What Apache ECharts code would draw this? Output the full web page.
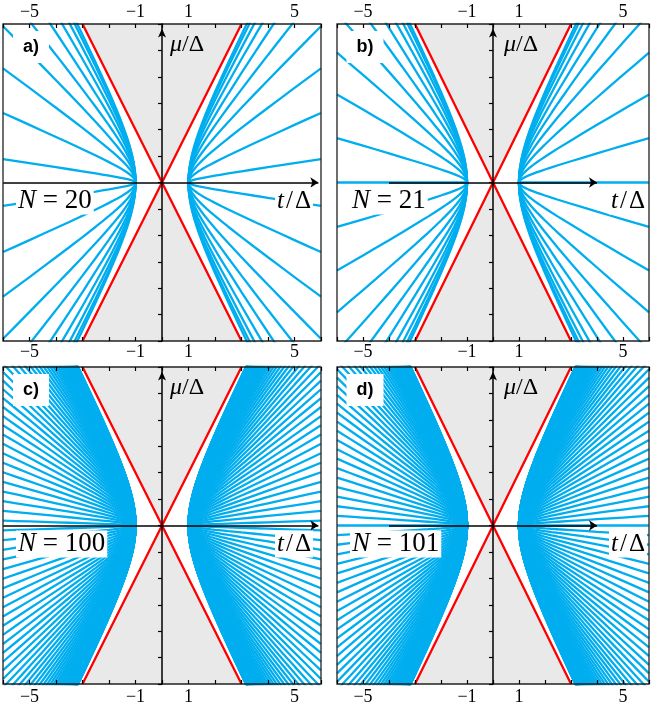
<!DOCTYPE html>
<html><head><meta charset="utf-8">
<script src="https://cdn.jsdelivr.net/npm/echarts@6/dist/echarts.min.js"></script>
<style>html,body{margin:0;padding:0;background:#fff}#c{width:652px;height:711px}</style>
</head><body><div id="c"></div>
<script>
// ---------------- data ----------------
const panelTags = ['a)', 'b)', 'c)', 'd)'];
const chainLengths = [20, 21, 100, 101];
const tickLabelValues = [-5, -1, 1, 5];
// t/Δ sample points (right branch; left branch mirrored) and the curve profile
const tSamples = [1, 1.0005, 1.002, 1.005, 1.01, 1.02, 1.04, 1.07, 1.1, 1.15, 1.2, 1.25, 1.3, 1.35, 1.4, 1.5, 1.6, 1.7, 1.85, 2, 2.25, 2.5, 3, 3.5, 4, 4.5, 5, 5.5, 6];
const curveProfile = [0, 0.03163, 0.06328, 0.10012, 0.14177, 0.20100, 0.28566, 0.38066, 0.45826, 0.56789, 0.66332, 0.75, 0.83066, 0.90692, 0.97980, 1.11803, 1.24900, 1.37477, 1.55644, 1.73205, 2.01556, 2.29129, 2.82843, 3.35410, 3.87298, 4.38748, 4.89898, 5.40833, 5.91608];
// slope factor of each zero-mode line (upper half; lower half is the mirror image)
const slopesN20 = [1.9777, 1.9111, 1.8019, 1.6525, 1.4661, 1.2470, 1.0000, 0.7307, 0.4450, 0.1495];
const slopesN21 = [1.9796, 1.9190, 1.8193, 1.6825, 1.5115, 1.3097, 1.0813, 0.8308, 0.5635, 0.2846, 0];
const slopesN100 = [1.9990, 1.9961, 1.9913, 1.9845, 1.9759, 1.9653, 1.9528, 1.9384, 1.9221, 1.9041, 1.8841, 1.8623, 1.8387, 1.8133, 1.7862, 1.7573, 1.7268, 1.6946, 1.6608, 1.6253, 1.5882, 1.5497, 1.5096, 1.4681, 1.4251, 1.3808, 1.3351, 1.2882, 1.2400, 1.1906, 1.1400, 1.0884, 1.0357, 0.9820, 0.9273, 0.8718, 0.8154, 0.7582, 0.7002, 0.6416, 0.5824, 0.5227, 0.4623, 0.4016, 0.3405, 0.2790, 0.2173, 0.1554, 0.0933, 0.0311];
const slopesN101 = [1.9991, 1.9962, 1.9915, 1.9848, 1.9763, 1.9659, 1.9537, 1.9396, 1.9237, 1.9059, 1.8862, 1.8649, 1.8418, 1.8169, 1.7903, 1.7620, 1.7321, 1.7004, 1.6672, 1.6323, 1.5960, 1.5581, 1.5188, 1.4780, 1.4358, 1.3923, 1.3473, 1.3012, 1.2538, 1.2053, 1.1555, 1.1047, 1.0528, 1.0000, 0.9462, 0.8915, 0.8359, 0.7796, 0.7225, 0.6647, 0.6063, 0.5473, 0.4878, 0.4279, 0.3675, 0.3068, 0.2458, 0.1845, 0.1231, 0.0616, 0];
const panelSlopes = [slopesN20, slopesN21, slopesN100, slopesN101];
// red boundary |μ| = 2|t| (upper V and lower Λ)
const boundaryUpper = [[-3, 6], [0, 0], [3, 6]];
const boundaryLower = [[-3, -6], [0, 0], [3, -6]];
const axisRange = [-6, 6];

// ---------------- layout / style ----------------
const BLUE = '#00aeef', RED = '#ff0000', GRAY = '#e9e9e9';
const SERIF = "'Liberation Serif', 'DejaVu Serif', serif";
const SANS = "'Liberation Sans', Arial, sans-serif";
const grids = [
  { left: 3, top: 24, width: 318, height: 317 },
  { left: 337, top: 24, width: 314, height: 317 },
  { left: 3, top: 367, width: 318, height: 317 },
  { left: 337, top: 367, width: 314, height: 317 }
];
const tAxisSpan = [[-6, 5.9], [-4, 4], [-6, 5.9], [-4, 4]];
const showTopLabels = [true, true, true, true];
const showBottomLabels = [false, false, true, true];

function fmtTick(v) {
  if (tickLabelValues.indexOf(v) < 0) return '';
  return v < 0 ? '\u2212' + Math.abs(v) : String(v);
}

const xAxes = [], yAxes = [], series = [], graphics = [];
grids.forEach((g, p) => {
  ['top', 'bottom'].forEach((pos, j) => {
    xAxes.push({
      gridIndex: p, type: 'value', position: pos, min: axisRange[0], max: axisRange[1], interval: 1, z: 10,
      axisLine: { show: false, onZero: false },
      axisTick: { show: true, inside: true, length: 4, lineStyle: { color: '#000', width: 1.2 } },
      axisLabel: { show: j === 0 ? showTopLabels[p] : showBottomLabels[p], formatter: fmtTick, margin: j === 0 ? (p >= 2 ? 6 : 3) : 4,
        fontFamily: SERIF, fontSize: 18, color: '#000' },
      splitLine: { show: false }
    });
  });
  yAxes.push({
    gridIndex: p, type: 'value', min: axisRange[0], max: axisRange[1], interval: 1, z: 10,
    axisLine: { show: true, onZero: true, symbol: ['none', 'arrow'], symbolSize: [6, 9], symbolOffset: [0, -4.5],
      lineStyle: { color: '#000', width: 1.5 } },
    axisTick: { show: true, inside: false, length: 4, lineStyle: { color: '#000', width: 1.2 } },
    axisLabel: { show: false },
    splitLine: { show: false }
  });

  // gray gap + red boundary lines
  [[boundaryUpper, 'end'], [boundaryLower, 'start']].forEach(([d, origin]) => {
    series.push({
      type: 'line', xAxisIndex: 2 * p, yAxisIndex: p, data: d, symbol: 'none', z: 1, silent: true,
      lineStyle: { color: RED, width: 2.3 },
      areaStyle: { color: GRAY, opacity: 1, origin: origin }
    });
  });

  // blue zero-mode lines
  panelSlopes[p].forEach(s => {
    const signs = s === 0 ? [1] : [1, -1];
    signs.forEach(sg => {
      const pts = [];
      for (let i = tSamples.length - 1; i >= 0; i--) pts.push([-tSamples[i], sg * s * curveProfile[i]]);
      pts.push([0, '-']);
      for (let i = 0; i < tSamples.length; i++) pts.push([tSamples[i], sg * s * curveProfile[i]]);
      series.push({
        type: 'line', xAxisIndex: 2 * p, yAxisIndex: p, data: pts, symbol: 'none', z: 2, silent: true,
        connectNulls: false, clip: true,
        lineStyle: { color: BLUE, width: 2.3 }
      });
    });
  });

  // horizontal t axis with arrow
  series.push({
    type: 'line', xAxisIndex: 2 * p, yAxisIndex: p, data: [], symbol: 'none', z: 6, silent: true,
    markLine: {
      silent: true, symbol: ['none', 'arrow'], symbolSize: 8, animation: false,
      label: { show: false },
      lineStyle: { color: '#000', width: 1.5, type: 'solid' },
      data: [[{ coord: [tAxisSpan[p][0], 0] }, { coord: [tAxisSpan[p][1], 0] }]]
    }
  });

  // texts
  graphics.push({
    type: 'text', x: g.left + 28, y: g.top + 23, z: 100,
    style: { text: panelTags[p], font: 'bold 18px ' + SANS, fill: '#000', align: 'center', verticalAlign: 'middle',
      backgroundColor: '#fff', padding: [8, 10, 6, 10] }
  });
  graphics.push({
    type: 'text', x: g.left + 167, y: g.top + 21, z: 100,
    style: { text: '{i|\u03bc}/\u0394', font: '24px ' + SERIF, fill: '#000', align: 'left', verticalAlign: 'middle',
      rich: { i: { fontStyle: 'italic', fontFamily: SERIF, fontSize: 24 } } }
  });
  graphics.push({
    type: 'text', x: g.left + 13, y: g.top + 177, z: 100,
    style: { text: '{i|N} = ' + chainLengths[p], font: '27px ' + SERIF, fill: '#000', align: 'left', verticalAlign: 'middle',
      backgroundColor: '#fff', padding: [0, 2, 0, 2], rich: { i: { fontStyle: 'italic', fontFamily: SERIF, fontSize: 27 } } }
  });
  graphics.push({
    type: 'text', x: g.left + 272, y: g.top + 177, z: 100,
    style: { text: '{i|t}{s|/}\u0394', font: '25px ' + SERIF, fill: '#000', align: 'left', verticalAlign: 'middle',
      backgroundColor: '#fff', padding: [1, 2, 1, 2],
      rich: { i: { fontStyle: 'italic', fontFamily: SERIF, fontSize: 25, padding: [0, 2, 0, 0] },
              s: { fontFamily: SERIF, fontSize: 25, padding: [0, 2, 0, 0] } } }
  });
});

const chart = echarts.init(document.getElementById('c'), null, { renderer: 'canvas' });
chart.setOption({
  animation: false,
  backgroundColor: '#fff',
  grid: grids.map(g => Object.assign({ show: true, borderColor: '#222', borderWidth: 1.3, z: 10, backgroundColor: 'transparent' }, g)),
  xAxis: xAxes,
  yAxis: yAxes,
  series: series,
  graphic: graphics
});
</script></body></html>
